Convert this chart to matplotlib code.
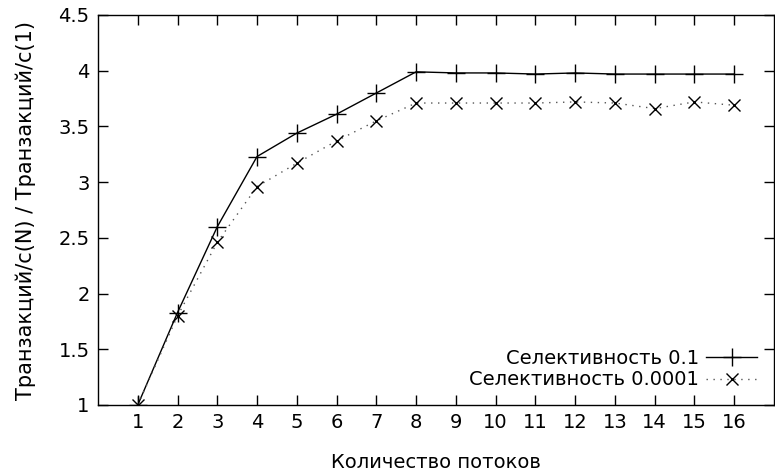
import matplotlib
matplotlib.use("Agg")
import matplotlib.pyplot as plt

threads = list(range(1, 17))
sel_01 = [1.00, 1.83, 2.60, 3.23, 3.44, 3.61, 3.80, 3.99, 3.98, 3.98, 3.97, 3.98, 3.97, 3.97, 3.97, 3.97]
sel_00001 = [1.00, 1.80, 2.46, 2.96, 3.17, 3.37, 3.55, 3.71, 3.71, 3.71, 3.71, 3.72, 3.71, 3.66, 3.72, 3.69]
label_01 = "Селективность 0.1"
label_00001 = "Селективность 0.0001"
xlabel = "Количество потоков"
ylabel = "Транзакций/с(N) / Транзакций/с(1)"
yticks = [1, 1.5, 2, 2.5, 3, 3.5, 4, 4.5]
yticklabels = ["1", "1.5", "2", "2.5", "3", "3.5", "4", "4.5"]

plt.rcParams['font.family'] = ['DejaVu Sans']
fig = plt.figure(figsize=(7.75, 4.71), dpi=100)
ax = fig.add_axes([98/775, 66/471, 676/775, 390/471])

ax.plot(threads, sel_01, color='black', lw=1.0, marker='+', ms=13, mew=1.0, label=label_01)
ax.plot(threads, sel_00001, color='#555555', lw=1.0, ls=(0, (1, 4)), marker='x', ms=9, mew=1.0,
        markeredgecolor='black', label=label_00001)

ax.set_xlim(0, 17)
ax.set_ylim(1, 4.5)
ax.set_xticks(threads)
ax.set_xticklabels([str(t) for t in threads])
ax.set_yticks(yticks)
ax.set_yticklabels(yticklabels)
ax.tick_params(direction='in', length=7, width=1, labelsize=14, top=True, right=True, pad=6)
for s in ax.spines.values():
    s.set_linewidth(1.0)

ax.set_xlabel(xlabel, fontsize=14, labelpad=15)
ax.set_ylabel(ylabel, fontsize=15, labelpad=16)

leg = ax.legend(loc='lower right', frameon=False, fontsize=14, markerfirst=False,
                handlelength=2.6, handletextpad=0.4, borderaxespad=0.3, labelspacing=0.15,
                bbox_to_anchor=(0.995, 0.005))
for col in leg._legend_handle_box.get_children():
    col.align = "right"

fig.savefig("out.png", dpi=100)
